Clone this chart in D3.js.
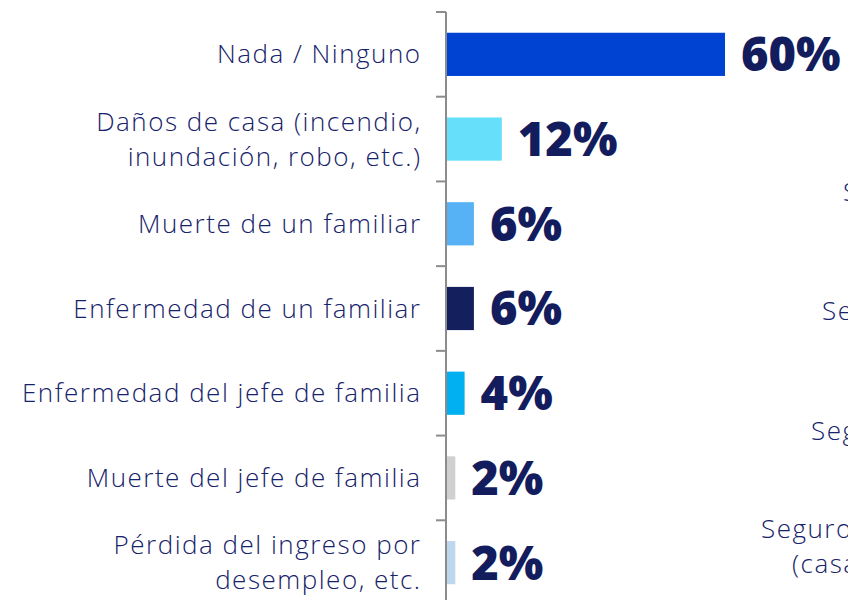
<!DOCTYPE html>
<html>
<head>
<meta charset="utf-8">
<script src="https://cdn.jsdelivr.net/npm/d3@7"></script>
<style>
  body { margin: 0; background: #fff; overflow: hidden; }
  svg { display: block; }
</style>
</head>
<body>
<svg id="chart" width="848" height="600"></svg>
<script>
// data
const categories = [
  "Nada / Ninguno",
  "Daños de casa (incendio,|inundación, robo, etc.)",
  "Muerte de un familiar",
  "Enfermedad de un familiar",
  "Enfermedad del jefe de familia",
  "Muerte del jefe de familia",
  "Pérdida del ingreso por|desempleo, etc."
];
const values = [60, 12, 6, 6, 4, 2, 2];
const barColors = ["#0043d2", "#66e0fa", "#56b2f4", "#141f5e", "#00b0f0", "#d0d0d0", "#bcd7ee"];
// labels of the neighbouring panel, cut off by the right edge
const sideLabels = ["Seguro", "Seguro", "Seguro", "Seguro|(casa"];

const navy = "#16226a";
const svg = d3.select("#chart");

const x0 = 446;
const x = d3.scaleLinear().domain([0, 60]).range([x0, 725]);
const y = d3.scaleBand()
  .domain(categories)
  .range([12, 605])
  .paddingInner(0.49)
  .paddingOuter(0.245);

// bars
svg.append("g").selectAll("rect")
  .data(categories)
  .enter().append("rect")
  .attr("x", x(0))
  .attr("y", d => y(d))
  .attr("width", (d, i) => x(values[i]) - x(0))
  .attr("height", y.bandwidth())
  .attr("fill", (d, i) => barColors[i]);

// axis with ticks between bands
const axis = svg.append("g").attr("stroke", "#8c8c8c").attr("stroke-width", 2);
axis.append("line")
  .attr("x1", x0).attr("x2", x0)
  .attr("y1", 12).attr("y2", 605);
const bounds = d3.range(categories.length + 1).map(i => 12 + i * (605 - 12) / categories.length);
axis.selectAll("line.tick")
  .data(bounds)
  .enter().append("line")
  .attr("class", "tick")
  .attr("x1", x0 - 10).attr("x2", x0)
  .attr("y1", d => d).attr("y2", d => d);

// category labels
const labX = 421.5;
const lab = svg.append("g")
  .attr("font-family", "'Open Sans', sans-serif")
  .attr("font-size", 26)
  .attr("font-weight", 300)
  .attr("letter-spacing", 1.5)
  .attr("fill", navy)
  .attr("text-anchor", "end");
lab.selectAll("text")
  .data(categories)
  .enter().append("text")
  .attr("x", labX)
  .attr("y", d => y(d) + y.bandwidth() / 2)
  .each(function(d) {
    const lines = d.split("|");
    const t = d3.select(this);
    lines.forEach((ln, k) => {
      t.append("tspan")
        .attr("x", labX)
        .attr("dy", k === 0 ? (0.35 - (lines.length - 1) * 0.67) + "em" : "1.34em")
        .text(ln);
    });
  });

// value labels
svg.append("g")
  .attr("font-family", "'Open Sans', sans-serif")
  .attr("font-size", 47)
  .attr("font-weight", 800)
  .attr("fill", "#131d5e")
  .selectAll("text")
  .data(categories)
  .enter().append("text")
  .attr("x", (d, i) => x(values[i]) + 16)
  .attr("y", d => y(d) + y.bandwidth() / 2)
  .attr("dy", "0.36em")
  .text((d, i) => values[i] + "%");

// neighbouring panel labels
const sideY = [192, 311, 431, 529];
const sideX = [843, 822, 811, 761];
svg.append("g")
  .attr("font-family", "'Open Sans', sans-serif")
  .attr("font-size", 26)
  .attr("font-weight", 300)
  .attr("letter-spacing", 1.5)
  .attr("fill", navy)
  .selectAll("text")
  .data(sideLabels)
  .enter().append("text")
  .attr("x", (d, i) => sideX[i])
  .attr("y", (d, i) => sideY[i])
  .attr("dy", "0.35em")
  .each(function(d, i) {
    const t = d3.select(this);
    d.split("|").forEach((ln, k) => {
      t.append("tspan")
        .attr("x", sideX[i] + k * 31)
        .attr("dy", k === 0 ? null : "1.34em")
        .text(ln);
    });
  });
</script>
</body>
</html>
